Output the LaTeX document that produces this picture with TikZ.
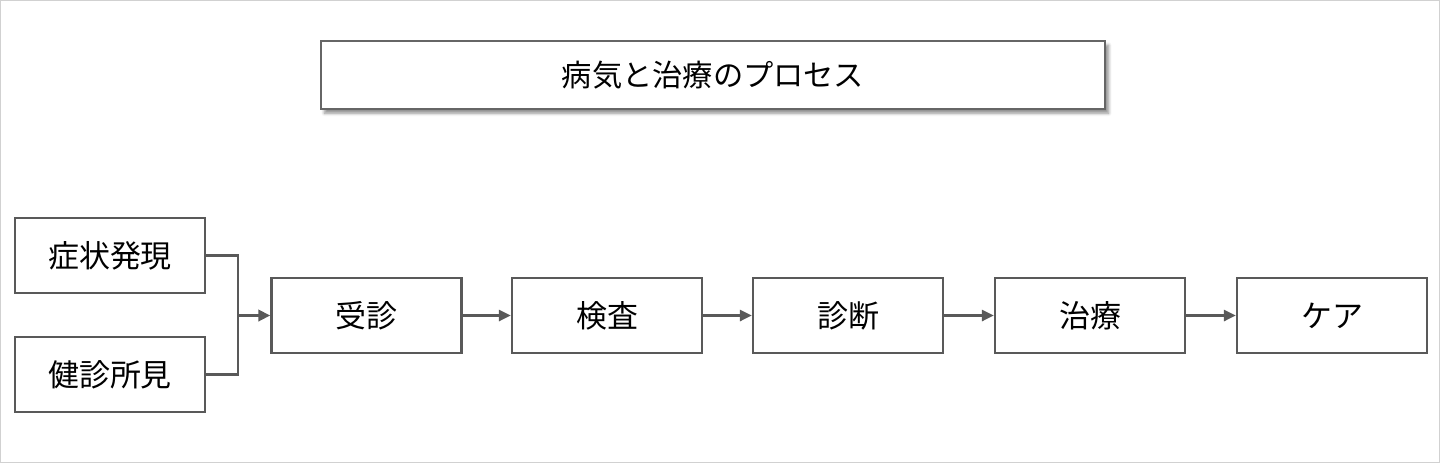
\documentclass[tikz,border=0pt]{standalone}
\usepackage{fontspec}
\setmainfont{Noto Sans CJK JP}
\usetikzlibrary{arrows.meta,shadows.blur}

\tikzset{
  stepbox/.style={draw=black!65,line width=1.7pt,fill=white,minimum width=4.75cm,minimum height=1.875cm,inner sep=0pt,font=\fontsize{22}{26}\selectfont},
  titlebox/.style={stepbox,minimum width=19.6cm,minimum height=1.7cm,draw=black!60,line width=1.3pt,font=\fontsize{21.5}{26}\selectfont,blur shadow={shadow xshift=2.5pt,shadow yshift=-3pt,shadow blur steps=6,shadow opacity=45}},
  flow/.style={draw=black!65,line width=1.6pt,-{Triangle[length=8.5pt,width=8pt]}}
}

\begin{document}
\begin{tikzpicture}[x=0.025cm,y=-0.025cm]
  \useasboundingbox (0,0) rectangle (1440,463);
  \draw[black!18,line width=0.8pt] (0.5,0.5) rectangle (1439.5,462.5);
  % title
  \node[titlebox] (title) at (713,75) {病気と治療のプロセス};
  % two entry points
  \node[stepbox] (symptom) at (110,255.5) {症状発現};
  \node[stepbox] (checkup) at (110,374.5) {健診所見};
  % main flow
  \node[stepbox] (visit) at (366.5,315.5) {受診};
  \node[stepbox] (exam) at (607,315.5) {検査};
  \node[stepbox] (diag) at (848,315.5) {診断};
  \node[stepbox] (treat) at (1090,315.5) {治療};
  \node[stepbox] (care) at (1332,315.5) {ケア};
  % merge of the two entries
  \coordinate (join) at (238,315.5);
  \draw[draw=black!65,line width=1.6pt] (symptom.east) -| (join) |- (checkup.east);
  \draw[flow,line width=2.4pt] (join) -- (visit.west);
  \foreach \a/\b in {visit/exam,exam/diag,diag/treat,treat/care}
    \draw[flow] (\a) -- (\b);
\end{tikzpicture}
\end{document}
